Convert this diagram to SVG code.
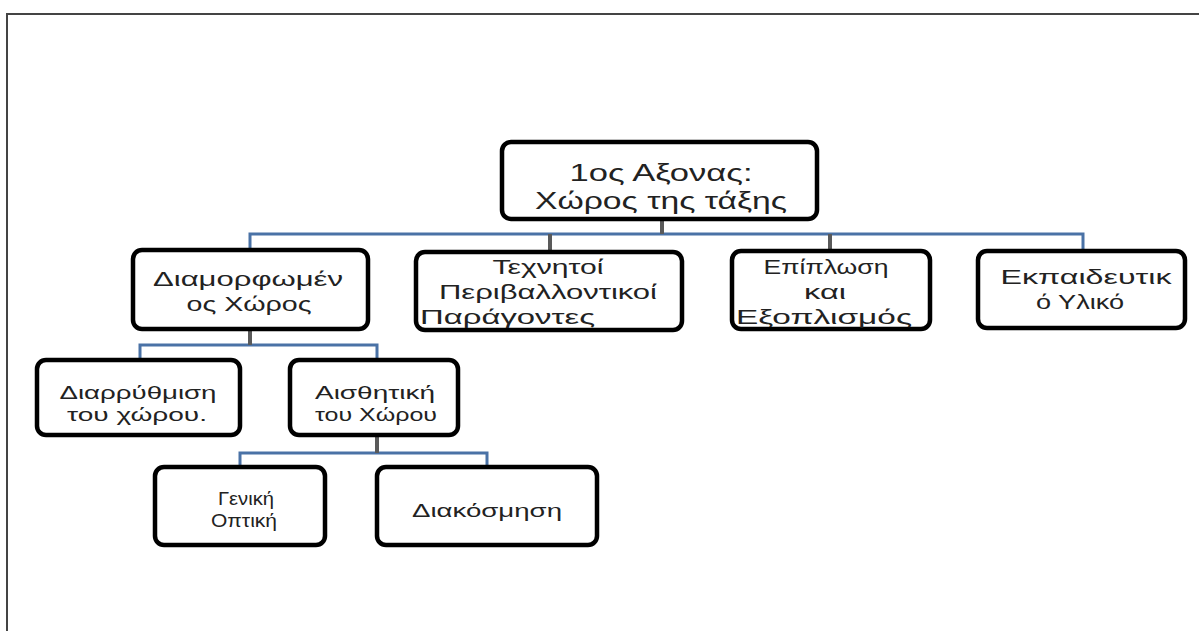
<svg xmlns="http://www.w3.org/2000/svg" width="1199" height="631" viewBox="0 0 1199 631">
<style>
.box{fill:#fff;stroke:#000;stroke-width:4.5}
.t{font-family:"Liberation Sans","Noto Sans",sans-serif;fill:#222;text-anchor:middle}
.t26{font-size:24px}
.t21{font-size:21px}
.t19{font-size:18px}
.t18{font-size:18px}
.h{stroke:#4a72a6;stroke-width:3;fill:none}
.v{stroke:#5a5a5a;stroke-width:4;fill:none}
</style>
<rect x="0" y="0" width="1199" height="631" fill="#fff"/>
<path d="M7,631 V14 H1199" fill="none" stroke="#444" stroke-width="2"/>
<g id="connectors">
<path class="h" d="M250,250 V234 H1083 V252"/>
<path class="v" d="M662,219 V234 M550,234 V252 M830,234 V250"/>
<path class="h" d="M140,360 V345 H377 V360"/>
<path class="v" d="M250,329 V345"/>
<path class="h" d="M240,467 V453 H487 V467"/>
<path class="v" d="M377,435 V453"/>
</g>
<g id="root">
<rect class="box" x="502" y="142" width="315" height="77" rx="9"/>
<text class="t t26" x="661" y="181" textLength="183" lengthAdjust="spacingAndGlyphs">1ος Αξονας:</text>
<text class="t t26" x="661" y="209" textLength="252" lengthAdjust="spacingAndGlyphs">Χώρος της τάξης</text>
</g>
<g id="diamorfomenos">
<rect class="box" x="133" y="250" width="235" height="79" rx="9"/>
<text class="t t21" x="248" y="286" textLength="190" lengthAdjust="spacingAndGlyphs">Διαμορφωμέν</text>
<text class="t t21" x="249" y="311" textLength="125" lengthAdjust="spacingAndGlyphs">ος Χώρος</text>
</g>
<g id="technitoi">
<rect class="box" x="416" y="252" width="266" height="78" rx="9"/>
<text class="t t21" x="548" y="274" textLength="111" lengthAdjust="spacingAndGlyphs">Τεχνητοί</text>
<text class="t t21" x="548" y="299" textLength="218" lengthAdjust="spacingAndGlyphs">Περιβαλλοντικοί</text>
<text class="t t21" x="420" y="324" style="text-anchor:start" textLength="175" lengthAdjust="spacingAndGlyphs">Παράγοντες</text>
</g>
<g id="epiplosi">
<rect class="box" x="732" y="251" width="198" height="78" rx="9"/>
<text class="t t21" x="826" y="274" textLength="125" lengthAdjust="spacingAndGlyphs">Επίπλωση</text>
<text class="t t21" x="825" y="299" textLength="42" lengthAdjust="spacingAndGlyphs">και</text>
<text class="t t21" x="824" y="324" textLength="176" lengthAdjust="spacingAndGlyphs">Εξοπλισμός</text>
</g>
<g id="ekpaideutiko">
<rect class="box" x="978" y="251" width="207" height="77" rx="9"/>
<text class="t t21" x="1086" y="284" textLength="171" lengthAdjust="spacingAndGlyphs">Εκπαιδευτικ</text>
<text class="t t21" x="1080" y="309" textLength="88" lengthAdjust="spacingAndGlyphs">ό Υλικό</text>
</g>
<g id="diarrythmisi">
<rect class="box" x="37" y="360" width="203" height="75" rx="9"/>
<text class="t t19" x="138" y="399" textLength="157" lengthAdjust="spacingAndGlyphs">Διαρρύθμιση</text>
<text class="t t19" x="137" y="421" textLength="140" lengthAdjust="spacingAndGlyphs">του χώρου.</text>
</g>
<g id="aisthitiki">
<rect class="box" x="290" y="360" width="168" height="75" rx="9"/>
<text class="t t19" x="375" y="399" textLength="120" lengthAdjust="spacingAndGlyphs">Αισθητική</text>
<text class="t t19" x="376" y="421" textLength="122" lengthAdjust="spacingAndGlyphs">του Χώρου</text>
</g>
<g id="geniki">
<rect class="box" x="155" y="467" width="170" height="78" rx="9"/>
<text class="t t18" x="246" y="505" textLength="56" lengthAdjust="spacingAndGlyphs">Γενική</text>
<text class="t t18" x="244" y="527" textLength="66" lengthAdjust="spacingAndGlyphs">Οπτική</text>
</g>
<g id="diakosmisi">
<rect class="box" x="377" y="467" width="220" height="78" rx="9"/>
<text class="t t18" x="487" y="517" textLength="150" lengthAdjust="spacingAndGlyphs">Διακόσμηση</text>
</g>
</svg>
